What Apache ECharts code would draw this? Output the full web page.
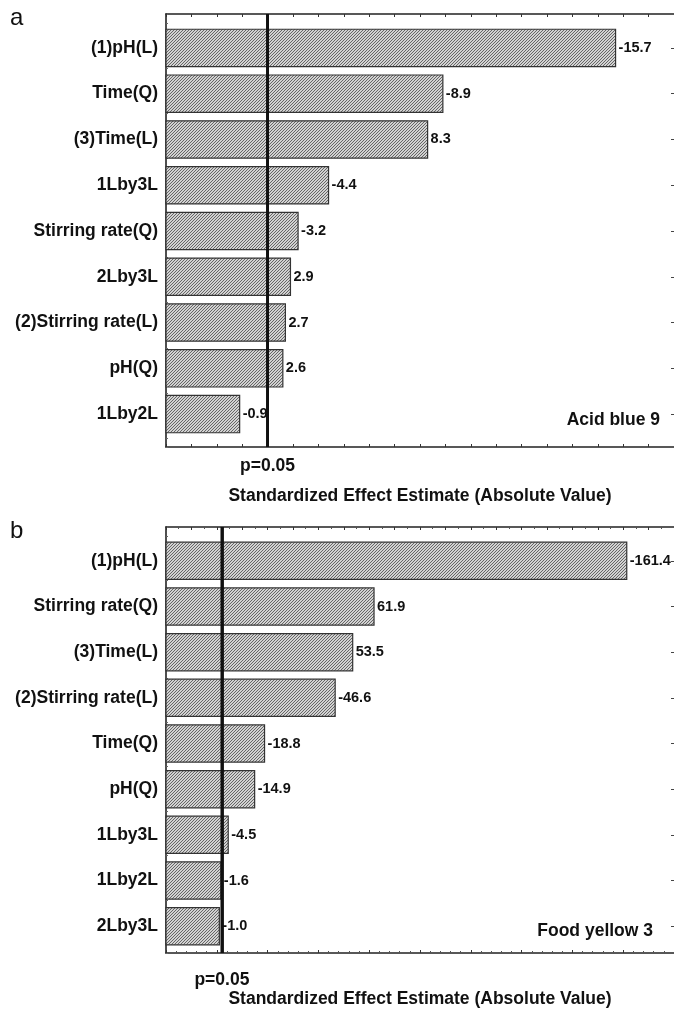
<!DOCTYPE html>
<html>
<head>
<meta charset="utf-8">
<script src="https://cdn.jsdelivr.net/npm/echarts@6/dist/echarts.min.js"></script>
<style>html,body{margin:0;padding:0;background:#fff}#c{width:674px;height:1009px}</style>
</head>
<body>
<div id="c"></div>
<script>
// ---- data ----
const categoriesA = ['(1)pH(L)', 'Time(Q)', '(3)Time(L)', '1Lby3L', 'Stirring rate(Q)', '2Lby3L', '(2)Stirring rate(L)', 'pH(Q)', '1Lby2L'];
const effectsA = [-15.7, -8.9, 8.3, -4.4, -3.2, 2.9, 2.7, 2.6, -0.9];
const categoriesB = ['(1)pH(L)', 'Stirring rate(Q)', '(3)Time(L)', '(2)Stirring rate(L)', 'Time(Q)', 'pH(Q)', '1Lby3L', '1Lby2L', '2Lby3L'];
const effectsB = [-161.4, 61.9, 53.5, -46.6, -18.8, -14.9, -4.5, -1.6, -1.0];
const pCritA = 2.0;
const pCritB = 2.0;
const axisRangeA = [-2, 18];
const axisRangeB = [-20, 180];
const pLabel = 'p=0.05';
const axisTitle = 'Standardized Effect Estimate (Absolute Value)';
const panelA = 'a', panelB = 'b';
const noteA = 'Acid blue 9', noteB = 'Food yellow 3';

const FONT = '"Liberation Sans", Arial, Helvetica, sans-serif';
function hatch() {
  const c = document.createElement('canvas'); c.width = 3; c.height = 3;
  const g = c.getContext('2d');
  g.fillStyle = '#d2d2d2'; g.fillRect(0, 0, 3, 3);
  g.strokeStyle = '#666'; g.lineWidth = 1;
  g.beginPath();
  g.moveTo(0, 3); g.lineTo(3, 0);
  g.moveTo(-1, 1); g.lineTo(1, -1);
  g.moveTo(2, 4); g.lineTo(4, 2);
  g.stroke();
  return c;
}
const pattern = { image: hatch(), repeat: 'repeat' };

const chart = echarts.init(document.getElementById('c'), null, { renderer: 'canvas' });

const L = 166, W = 508;
const frameTop = [14, 527], frameH = 433;
const barTop = [25, 538], barH = [412, 411];

function frameX(idx, range, interval, minorSplit, showName, nameGap, top) {
  return {
    type: 'value', gridIndex: idx, min: range[0], max: range[1], interval: interval,
    position: top ? 'top' : 'bottom',
    axisLine: { show: true, onZero: false, lineStyle: { color: '#222', width: 1.6 } },
    axisTick: { show: true, inside: true, length: 3, lineStyle: { color: '#333', width: 1 } },
    minorTick: { show: minorSplit > 0, splitNumber: minorSplit || 5, length: 2, lineStyle: { color: '#555' } },
    axisLabel: { show: false }, splitLine: { show: false },
    name: showName ? axisTitle : '', nameLocation: 'middle', nameGap: nameGap,
    nameTextStyle: { fontFamily: FONT, fontWeight: 'bold', fontSize: 17.5, color: '#111' }
  };
}
function frameY(idx) {
  return {
    type: 'value', gridIndex: idx, min: 0, max: 48, interval: 1,
    axisLine: { show: true, onZero: false, lineStyle: { color: '#222', width: 1.6 } },
    axisTick: { show: true, inside: true, length: 2, lineStyle: { color: '#666', width: 1 } },
    axisLabel: { show: false }, splitLine: { show: false }
  };
}
function catY(idx, cats, right) {
  return {
    type: 'category', gridIndex: idx, data: cats, inverse: true,
    position: right ? 'right' : 'left',
    axisLine: { show: false, onZero: false },
    axisTick: { show: !!right, inside: true, alignWithLabel: true, length: 3, lineStyle: { color: '#444' } },
    axisLabel: right ? { show: false } : { show: true, margin: 8, fontFamily: FONT, fontWeight: 'bold', fontSize: 17.5, color: '#111' },
    splitLine: { show: false }
  };
}
function barSeries(xi, yi, vals, base) {
  return {
    type: 'custom', xAxisIndex: xi, yAxisIndex: yi, clip: false, silent: true,
    data: vals.map((v, i) => [Math.abs(v), i, v]),
    encode: { x: 0, y: 1 },
    renderItem: function (params, api) {
      const val = api.value(0), idx = api.value(1), signed = api.value(2);
      const s = api.coord([base, idx]);
      const e = api.coord([val, idx]);
      const h = api.size([0, 1])[1] * 0.815;
      return {
        type: 'group',
        children: [
          { type: 'rect', shape: { x: s[0], y: e[1] - h / 2, width: e[0] - s[0], height: h },
            style: { fill: pattern, stroke: '#333', lineWidth: 1.2 } },
          { type: 'text', x: e[0] + 3, y: e[1],
            style: { text: signed.toFixed(1), textVerticalAlign: 'middle', textAlign: 'left',
              font: 'bold 14.5px ' + FONT, fill: '#111' } }
        ]
      };
    },
    animation: false
  };
}
function pLine(xi, yi, p, dist) {
  return {
    type: 'line', xAxisIndex: xi, yAxisIndex: yi,
    data: [[p, 0], [p, 48]], symbol: 'none', silent: true,
    lineStyle: { color: '#111', width: 2.8 },
    markLine: {
      silent: true, symbol: 'none', animation: false,
      lineStyle: { color: '#111', width: 2.8, type: 'solid' },
      label: { show: true, position: 'start', distance: dist, formatter: pLabel,
        fontFamily: FONT, fontWeight: 'bold', fontSize: 17.5, color: '#111' },
      data: [{ xAxis: p }]
    },
    animation: false
  };
}

chart.setOption({
  animation: false,
  grid: [
    { left: L, width: W, top: frameTop[0], height: frameH },
    { left: L, width: W, top: barTop[0], height: barH[0] },
    { left: L, width: W, top: frameTop[1], height: frameH },
    { left: L, width: W, top: barTop[1], height: barH[1] }
  ],
  xAxis: [
    frameX(0, axisRangeA, 1, 0, true, 40, false),
    frameX(0, axisRangeA, 1, 0, false, 0, true),
    { type: 'value', gridIndex: 1, min: axisRangeA[0], max: axisRangeA[1], show: false },
    frameX(2, axisRangeB, 20, 5, true, 37, false),
    frameX(2, axisRangeB, 10, 2, false, 0, true),
    { type: 'value', gridIndex: 3, min: axisRangeB[0], max: axisRangeB[1], show: false }
  ],
  yAxis: [
    frameY(0),
    catY(1, categoriesA, false),
    catY(1, categoriesA, true),
    frameY(2),
    catY(3, categoriesB, false),
    catY(3, categoriesB, true)
  ],
  series: [
    barSeries(2, 1, effectsA, axisRangeA[0]),
    pLine(0, 0, pCritA, 10),
    barSeries(5, 4, effectsB, axisRangeB[0]),
    pLine(3, 3, pCritB, 18)
  ],
  graphic: [
    { type: 'text', left: 10, top: 6, style: { text: panelA, font: '24px ' + FONT, fill: '#111' } },
    { type: 'text', left: 10, top: 519, style: { text: panelB, font: '24px ' + FONT, fill: '#111' } },
    { type: 'text', x: 660, y: 420, style: { text: noteA, textAlign: 'right', textVerticalAlign: 'middle', font: 'bold 17.5px ' + FONT, fill: '#111' } },
    { type: 'text', x: 653, y: 931, style: { text: noteB, textAlign: 'right', textVerticalAlign: 'middle', font: 'bold 17.5px ' + FONT, fill: '#111' } }
  ]
});
</script>
</body>
</html>
